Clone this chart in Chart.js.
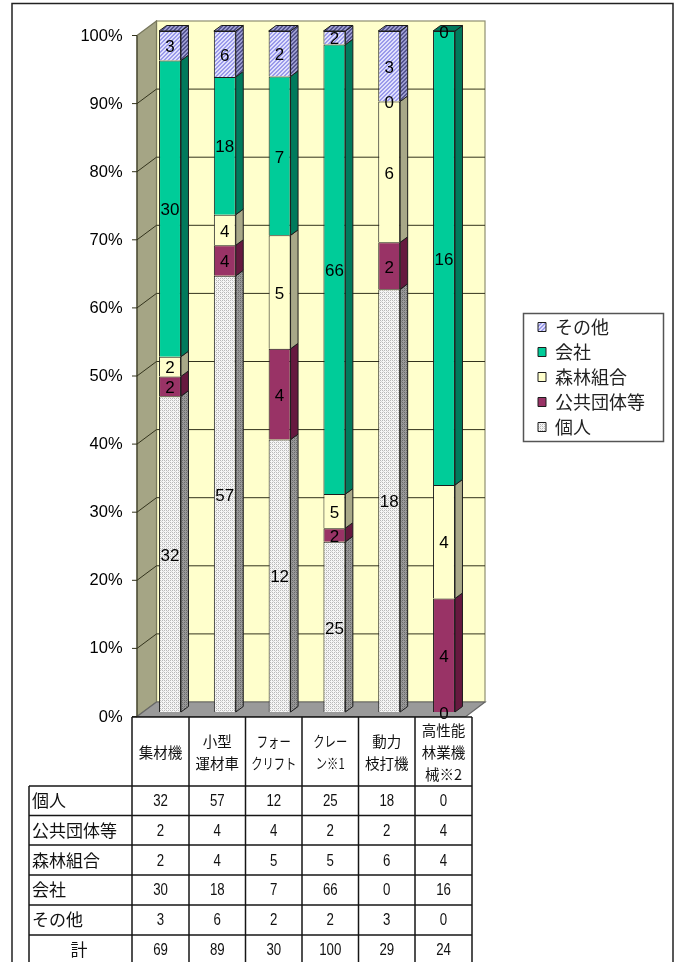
<!DOCTYPE html>
<html lang="ja"><head><meta charset="utf-8">
<style>html,body{margin:0;padding:0;background:#fff}canvas{display:block;filter:blur(0.45px)}</style>
<script src="https://cdn.jsdelivr.net/npm/chart.js@4"></script></head>
<body><canvas id="c" width="678" height="962"></canvas>
<script>
const categories = ['集材機','小型運材車','フォークリフト','クレーン※1','動力枝打機','高性能林業機械※2'];
const categoryLines = [['集材機'],['小型','運材車'],['フォー','クリフト'],['クレー','ン※1'],['動力','枝打機'],['高性能','林業機','械※2']];
const seriesNames = ['個人','公共団体等','森林組合','会社','その他'];
const kojin   = [32,57,12,25,18,0];
const kokyo   = [2,4,4,2,2,4];
const shinrin = [2,4,5,5,6,4];
const kaisha  = [30,18,7,66,0,16];
const sonota  = [3,6,2,2,3,0];
const totals  = [69,89,30,100,29,24];
const totalLabel = '計';
const yTicks = [0,10,20,30,40,50,60,70,80,90,100];
const seriesCounts = [kojin,kokyo,shinrin,kaisha,sonota];

function pattern(bg, draw){
  const p=document.createElement('canvas');p.width=4;p.height=4;
  const g=p.getContext('2d');g.fillStyle=bg;g.fillRect(0,0,4,4);draw(g);
  return g.createPattern(p,'repeat');
}
const dots=(col)=>g=>{g.fillStyle=col;g.fillRect(0,0,1,1);g.fillRect(2,2,1,1);g.fillRect(2,0,1,1);g.fillRect(0,2,1,1);g.globalAlpha=.5;g.fillRect(1,1,1,1);g.fillRect(3,3,1,1);};
const stripes=(col)=>g=>{g.fillStyle=col;for(let i=0;i<4;i++){g.fillRect(i,3-i,1,1);g.fillRect((i+1)%4,3-i,1,1);}};
const fronts=[pattern('#f6f6f6',dots('#b8b8b8')),'#993366','#FFFFCC','#00CC99',pattern('#e0e0fc',stripes('#9a9aea'))];
const sides =[pattern('#9a9a9a',dots('#6c6c6c')),'#66193f','#a8a888','#007a5c',pattern('#9c9cd0',stripes('#55558f'))];

const DX=7.5, DY=5.5;           // bar depth
const pct=(arr,i)=>arr[i]/totals[i]*100;
const datasets=seriesNames.map((n,s)=>({
  label:n,
  data:categories.map((_,i)=>pct(seriesCounts[s],i)),
  backgroundColor:fronts[s],borderColor:'#1c1c1c',borderWidth:1,
  barPercentage:0.4,categoryPercentage:1,stack:'a'
}));

const COLS=[132,189,245.5,302,358.5,415,472];
const ROWS=[717,786,815.5,845,875,905,935];
const ROWC=[801,831,861,890,920,950];
const JP='"Noto Sans CJK JP"';

const deco={
  id:'deco',
  beforeDatasetsDraw(chart){
    const c=chart.ctx,y=chart.scales.y,back=v=>y.getPixelForValue(v)-10,front=v=>y.getPixelForValue(v)+4.5;
    c.save();
    c.strokeStyle='#222';c.lineWidth=1.5;
    c.beginPath();c.moveTo(12,962);c.lineTo(12,3.5);c.lineTo(673,3.5);c.lineTo(673,962);c.stroke();
    c.fillStyle='#FFFFCC';c.fillRect(156.5,back(100),328.5,back(0)-back(100));
    c.strokeStyle='#8f8f70';c.lineWidth=1.2;c.strokeRect(156.5,back(100),328.5,back(0)-back(100));
    c.fillStyle='#a5a585';c.beginPath();c.moveTo(137,front(100));c.lineTo(156.5,back(100));c.lineTo(156.5,back(0));c.lineTo(137,front(0));c.closePath();c.fill();
    c.strokeStyle='#77775c';c.stroke();
    c.fillStyle='#9a9a9a';c.beginPath();c.moveTo(137,front(0));c.lineTo(156.5,back(0));c.lineTo(485,back(0));c.lineTo(466,front(0));c.closePath();c.fill();
    c.strokeStyle='#666';c.stroke();
    c.strokeStyle='#33331c';c.lineWidth=1;
    yTicks.forEach(v=>{
      c.beginPath();c.moveTo(132,front(v));c.lineTo(137,front(v));
      if(v>0&&v<100){c.lineTo(156.5,back(v));c.lineTo(485,back(v));}
      c.stroke();
    });
    c.beginPath();c.moveTo(137,front(100));c.lineTo(137,front(0));c.stroke();
    c.restore();
  },
  afterDatasetsDraw(chart){
    const c=chart.ctx;c.save();
    c.strokeStyle='#1c1c1c';c.lineWidth=1;
    categories.forEach((_,i)=>{
      let topSeries=-1;
      seriesNames.forEach((_,s)=>{
        const el=chart.getDatasetMeta(s).data[i];
        if(seriesCounts[s][i]<=0)return;
        topSeries=s;
        const r=el.x+el.width/2;
        c.fillStyle=sides[s];c.beginPath();
        c.moveTo(r,el.y);c.lineTo(r+DX,el.y-DY);c.lineTo(r+DX,el.base-DY);c.lineTo(r,el.base);c.closePath();c.fill();c.stroke();
      });
      const el=chart.getDatasetMeta(topSeries).data[i],l=el.x-el.width/2,r=el.x+el.width/2;
      c.fillStyle=sides[topSeries];c.beginPath();
      c.moveTo(l,el.y);c.lineTo(l+DX,el.y-DY);c.lineTo(r+DX,el.y-DY);c.lineTo(r,el.y);c.closePath();c.fill();c.stroke();
    });
    c.fillStyle='#000';c.font='17px "Liberation Sans"';c.textAlign='center';c.textBaseline='middle';
    seriesNames.forEach((_,s)=>{
      chart.getDatasetMeta(s).data.forEach((el,i)=>{
        c.fillText(String(seriesCounts[s][i]),el.x,(el.y+el.base)/2+2);
      });
    });
    c.restore();
  },
  afterDraw(chart){
    const c=chart.ctx;c.save();
    c.strokeStyle='#555';c.lineWidth=1.5;c.strokeRect(523.5,313.5,140,128);
    c.strokeStyle='#161616';c.lineWidth=1.5;
    COLS.forEach(x=>{c.beginPath();c.moveTo(x,717);c.lineTo(x,962);c.stroke();});
    c.beginPath();c.moveTo(29,ROWS[1]);c.lineTo(29,962);c.stroke();
    ROWS.forEach((y,k)=>{c.beginPath();c.moveTo(k===0?132:29,y);c.lineTo(472,y);c.stroke();});
    c.textBaseline='middle';c.fillStyle='#111';
    const squeezed=(t,x,y,sx)=>{c.save();c.translate(x,y);c.scale(sx,1);c.fillText(t,0,0);c.restore();};
    c.font='14.5px '+JP;c.textAlign='center';
    categoryLines.forEach((ls,i)=>{
      const cx=(COLS[i]+COLS[i+1])/2,y0=752-(ls.length-1)*11;
      ls.forEach((t,k)=>squeezed(t,cx,y0+k*22,/[ァ-ヶー]/.test(t)?0.78:1));
    });
    c.font='17px '+JP;c.textAlign='left';
    seriesNames.forEach((n,s)=>c.fillText(n,32,ROWC[s]));
    c.textAlign='center';c.fillText(totalLabel,79,ROWC[5]);
    c.font='17px "Liberation Sans"';
    seriesCounts.concat([totals]).forEach((arr,r)=>{
      arr.forEach((v,i)=>squeezed(String(v),(COLS[i]+COLS[i+1])/2,ROWC[r],0.78));
    });
    c.restore();
  },
  afterLayout(chart){
    const l=chart.legend,w=l.width,h=l.height;
    l.left=531;l.right=531+w;l.top=311;l.bottom=311+h;
  }
};

new Chart(document.getElementById('c'),{
  type:'bar',
  data:{labels:categories,datasets},
  plugins:[deco],
  options:{
    responsive:false,animation:false,
    layout:{padding:{left:42.6,top:31,bottom:250,right:206.6}},
    scales:{
      x:{stacked:true,display:false},
      y:{stacked:true,min:0,max:100,
        afterFit(s){s.width=100;},
        grid:{display:false,drawTicks:false},border:{display:false},
        ticks:{stepSize:10,padding:20,labelOffset:5,color:'#000',autoSkip:false,
          font:{family:'"Liberation Sans"',size:16.5},callback:v=>v+'%'}}
    },
    plugins:{
      tooltip:{enabled:false},
      legend:{position:'chartArea',reverse:true,align:'start',
        labels:{boxWidth:8,boxHeight:9,padding:7,color:'#222',
          font:{family:JP,size:18,lineHeight:1}}}
    }
  }
});
</script></body></html>
